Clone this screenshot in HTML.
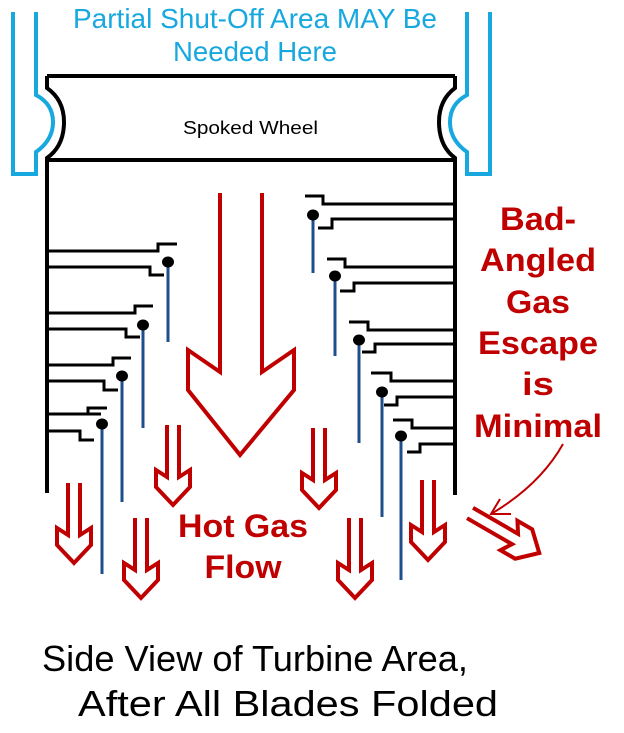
<!DOCTYPE html>
<html><head><meta charset="utf-8"><style>
html,body{margin:0;padding:0;background:#fff;}
svg{display:block;}
</style></head><body>
<svg width="624" height="733" viewBox="0 0 624 733" xmlns="http://www.w3.org/2000/svg">
<defs>
<polyline id="ar" points="-6,0 -6,52 -17,45 -17,62 0,80 17,62 17,45 6,52 6,0" fill="none" stroke="#c00000" stroke-width="4" stroke-linejoin="miter"/>
</defs>
<path d="M13,12 V174 H36 V152 Q53,140 53,122 Q53,104 36,95 V12" fill="none" stroke="#18a8e0" stroke-width="4"/>
<path d="M490,12 V174 H467 V152 Q450,140 450,122 Q450,104 467,95 V12" fill="none" stroke="#18a8e0" stroke-width="4"/>
<g fill="none" stroke="#000" stroke-width="4">
<path d="M47,76 H455"/>
<path d="M47,160 H455"/>
<path d="M47,76 V88 Q64,100 64,122 Q64,146 47,158 V493"/>
<path d="M455,76 V88 Q439,100 439,122 Q439,146 455,158 V495"/>
</g>
<text x="183" y="134" font-family="Liberation Sans, sans-serif" font-size="18" textLength="135" lengthAdjust="spacingAndGlyphs">Spoked Wheel</text>
<text x="73" y="28" font-family="Liberation Sans, sans-serif" font-size="28" fill="#18a8e0" textLength="364" lengthAdjust="spacingAndGlyphs">Partial Shut-Off Area MAY Be</text>
<text x="173" y="61" font-family="Liberation Sans, sans-serif" font-size="28" fill="#18a8e0" textLength="164" lengthAdjust="spacingAndGlyphs">Needed Here</text>
<g fill="none" stroke="#000" stroke-width="3">
<path d="M47,251 H158 V244 H177"/><path d="M47,267 H150 V275 H164"/>
<path d="M47,313 H135 V306 H153"/><path d="M47,329 H126 V337 H140"/>
<path d="M47,365 H113 V358 H131"/><path d="M47,381 H104 V390 H118"/>
<path d="M47,414 H101"/><path d="M88,414 V408 H107"/><path d="M47,431 H80 V440 H94"/>
<path d="M455,204 H323 V196 H305"/><path d="M455,219 H332 V228 H318"/>
<path d="M455,267 H345 V259 H327"/><path d="M455,283 H354 V291 H340"/>
<path d="M455,330 H368 V322 H349"/><path d="M455,344 H375 V352 H362"/>
<path d="M455,381 H391 V373 H371"/><path d="M455,397 H397 V405 H384"/>
<path d="M455,428 H412 V420 H393"/><path d="M455,444 H420 V452 H407"/>
</g>
<g stroke="#1f4e8c" stroke-width="3">
<line x1="168" y1="262" x2="168" y2="342"/>
<line x1="143" y1="325" x2="143" y2="428"/>
<line x1="122" y1="376" x2="122" y2="502"/>
<line x1="102" y1="424" x2="102" y2="574"/>
<line x1="313" y1="215" x2="313" y2="273"/>
<line x1="335" y1="276" x2="335" y2="356"/>
<line x1="359" y1="340" x2="359" y2="443"/>
<line x1="382" y1="392" x2="382" y2="517"/>
<line x1="401" y1="436" x2="401" y2="580"/>
</g>
<g fill="#000">
<ellipse cx="168" cy="262" rx="6" ry="5.5"/><ellipse cx="143" cy="325" rx="6" ry="5.5"/>
<ellipse cx="122" cy="376" rx="6" ry="5.5"/><ellipse cx="102" cy="424" rx="6" ry="5.5"/>
<ellipse cx="313" cy="215" rx="6" ry="5.5"/><ellipse cx="335" cy="276" rx="6" ry="5.5"/>
<ellipse cx="359" cy="340" rx="6" ry="5.5"/><ellipse cx="382" cy="392" rx="6" ry="5.5"/>
<ellipse cx="401" cy="436" rx="6" ry="5.5"/>
</g>
<polyline points="220,193 220,372 188,350 188,390 240,455 294,390 294,350 262,372 262,193" fill="none" stroke="#c00000" stroke-width="4"/>
<use href="#ar" transform="translate(74,483)"/>
<use href="#ar" transform="translate(141,518)"/>
<use href="#ar" transform="translate(173,425)"/>
<use href="#ar" transform="translate(319,428)"/>
<use href="#ar" transform="translate(355,518)"/>
<use href="#ar" transform="translate(428,480)"/>
<use href="#ar" transform="translate(470,513) rotate(-60)"/>
<path d="M563,444 Q540,485 491,514" fill="none" stroke="#c00000" stroke-width="2"/>
<path d="M500,499 L491,514 L511,514" fill="none" stroke="#c00000" stroke-width="2"/>
<g font-family="Liberation Sans, sans-serif" font-size="32" font-weight="bold" fill="#c00000" text-anchor="middle" lengthAdjust="spacingAndGlyphs">
<text x="538" y="230" textLength="76" lengthAdjust="spacingAndGlyphs">Bad-</text>
<text x="538" y="271" textLength="116" lengthAdjust="spacingAndGlyphs">Angled</text>
<text x="538" y="313" textLength="64" lengthAdjust="spacingAndGlyphs">Gas</text>
<text x="538" y="354" textLength="120" lengthAdjust="spacingAndGlyphs">Escape</text>
<text x="538" y="395" textLength="32" lengthAdjust="spacingAndGlyphs">is</text>
<text x="538" y="437" textLength="128" lengthAdjust="spacingAndGlyphs">Minimal</text>
<text x="243" y="537" textLength="130" lengthAdjust="spacingAndGlyphs">Hot Gas</text>
<text x="243" y="578" textLength="77" lengthAdjust="spacingAndGlyphs">Flow</text>
</g>
<text x="42" y="671" font-family="Liberation Sans, sans-serif" font-size="36" textLength="426" lengthAdjust="spacingAndGlyphs">Side View of Turbine Area,</text>
<text x="78" y="716" font-family="Liberation Sans, sans-serif" font-size="36" textLength="420" lengthAdjust="spacingAndGlyphs">After All Blades Folded</text>
</svg>
</body></html>
